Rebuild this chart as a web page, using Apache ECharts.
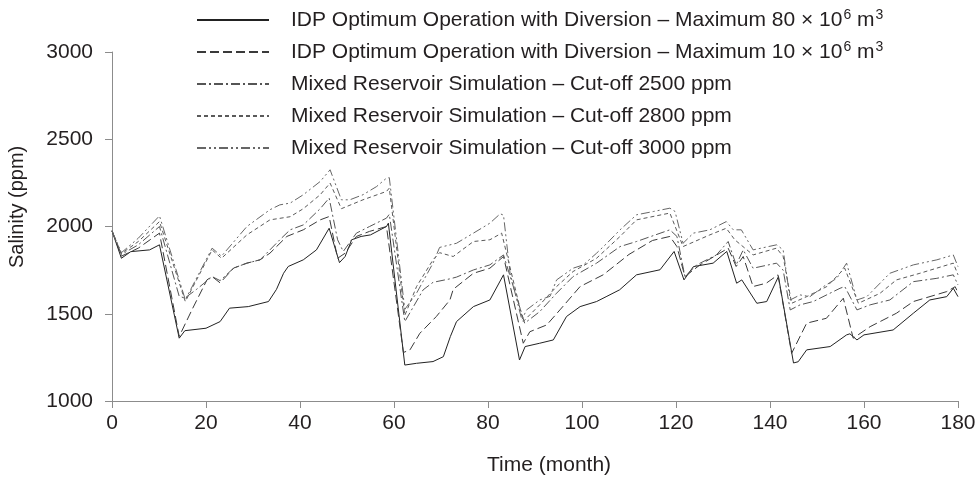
<!DOCTYPE html>
<html>
<head>
<meta charset="utf-8">
<script src="https://cdn.jsdelivr.net/npm/echarts@6/dist/echarts.min.js"></script>
<style>html,body{margin:0;padding:0;background:#fff}#c{width:980px;height:488px}</style>
</head>
<body>
<div id="c"></div>
<script>
// Series names (legend texts)
const seriesNames = [
  'IDP Optimum Operation with Diversion \u2013 Maximum 80 \u00d7 10^6 m^3',
  'IDP Optimum Operation with Diversion \u2013 Maximum 10 \u00d7 10^6 m^3',
  'Mixed Reservoir Simulation \u2013 Cut-off 2500 ppm',
  'Mixed Reservoir Simulation \u2013 Cut-off 2800 ppm',
  'Mixed Reservoir Simulation \u2013 Cut-off 3000 ppm'
];
// [month, salinity ppm]
const idp80 = [[0,1975],[2,1818],[4,1856],[8,1866],[10.1,1895],[14.3,1360],[15.5,1403],[20,1417],[23,1455],[25,1532],[29,1541],[33.3,1570],[35,1640],[36.5,1732],[37.5,1771],[40.7,1809],[43.5,1866],[46.2,1990],[48.4,1793],[49.6,1828],[51,1924],[53,1943],[55,1952],[58.4,2000],[58.8,2019],[62.3,1206],[64.8,1216],[68.3,1226],[70.5,1254],[72,1370],[73.3,1455],[76.9,1541],[80.4,1579],[83.3,1723],[86.7,1235],[87.9,1312],[91,1331],[93.9,1350],[96.7,1484],[99.6,1541],[103.1,1570],[105.3,1600],[108,1637],[111.6,1723],[116.6,1752],[119.6,1857],[121.7,1694],[123.7,1770],[127.9,1790],[130.8,1857],[132.9,1675],[134,1694],[137.2,1560],[139.3,1570],[141.8,1713],[145,1218],[146,1225],[147.8,1293],[152.8,1312],[156.3,1379],[157,1385],[158.5,1350],[160,1379],[166.2,1407],[170.5,1503],[174,1579],[177.6,1598],[179,1646],[180,1598]];
const idp10 = [[0,1975],[2,1830],[5.6,1876],[10.1,1962],[14.3,1370],[17,1522],[20.2,1694],[21.3,1713],[23,1677],[25.9,1762],[28.7,1790],[31.5,1809],[33.6,1847],[37.2,1943],[40.7,1981],[44.3,2038],[46.2,2057],[48,1818],[49.6,1847],[52,1943],[54.8,1972],[58.4,2000],[62,1278],[63.4,1293],[65.5,1388],[69,1484],[71.9,1579],[72.6,1640],[76.9,1732],[80.4,1761],[83.3,1828],[87.5,1331],[88.9,1397],[92.5,1436],[95.3,1522],[99.6,1656],[104.5,1723],[110,1840],[115,1920],[118.7,1943],[120.2,1885],[121.9,1713],[125.1,1780],[129.3,1847],[131.1,1876],[132.8,1771],[134.3,1828],[136.4,1656],[139.2,1675],[141.7,1723],[144.6,1273],[147.8,1446],[152,1474],[155.6,1589],[157.7,1360],[161.3,1426],[166.9,1503],[170.5,1570],[177.6,1627],[179.4,1655],[180,1620]];
const cut2500 = [[0,1975],[2,1840],[5.6,1895],[10.1,2000],[14.3,1600],[15.5,1590],[18,1640],[21.3,1713],[23,1690],[25.9,1762],[28.7,1790],[31.5,1809],[33.6,1866],[35.7,1924],[37.9,1981],[40.7,2009],[44.3,2102],[46.2,2163],[48,1924],[49.2,1857],[52,1962],[54.8,2000],[58.4,2048],[59,2070],[62.3,1455],[66.2,1637],[68.3,1680],[71.9,1700],[73.3,1710],[76.9,1751],[80.4,1780],[83.3,1837],[87.8,1446],[91,1512],[94.6,1618],[98.1,1713],[103.1,1790],[108.1,1885],[111.6,1914],[118.7,1981],[120.2,1943],[121.9,1713],[124.4,1780],[128.6,1837],[131.1,1914],[132.8,1780],[134.3,1866],[136.4,1761],[141.4,1790],[142.8,1750],[144.3,1522],[146.4,1551],[149.2,1570],[154.9,1646],[155.9,1656],[158.5,1522],[161.3,1551],[165.5,1579],[170.5,1684],[175.5,1703],[179,1723],[180,1665]];
const cut2800 = [[0,1975],[2,1845],[5.6,1914],[10.1,2028],[15.6,1570],[21.3,1866],[23.3,1818],[28.7,1952],[33.6,2038],[37.9,2056],[40.7,2102],[44.3,2182],[46.4,2249],[48.8,2102],[53.4,2153],[58.4,2201],[59,2220],[62.3,1490],[64.8,1656],[68.3,1809],[69.7,1850],[72.6,1828],[76.9,1914],[80.4,1924],[82.9,1962],[87.5,1456],[91,1551],[94.6,1656],[98.1,1742],[103.1,1818],[108.1,1943],[111.6,2038],[118.7,2077],[121.5,1885],[127.2,1952],[130.7,1990],[132.5,1924],[136.4,1837],[141.4,1876],[142.8,1828],[144.6,1560],[147.8,1598],[152.1,1656],[155.9,1761],[158.8,1560],[163.4,1617],[166.9,1694],[171.9,1732],[179,1790],[180,1723]];
const cut3000 = [[0,1975],[2,1850],[5.6,1933],[10.1,2061],[15.6,1580],[21.3,1876],[23.3,1830],[28.7,2000],[33.6,2096],[35.7,2124],[37.9,2134],[40.7,2182],[44.3,2258],[46.4,2325],[48.8,2153],[50.6,2153],[53.4,2182],[56.3,2229],[58.4,2277],[59,2280],[62.3,1525],[64.8,1618],[68.3,1790],[69.7,1880],[73.3,1904],[76.9,1962],[80.4,2019],[82.6,2073],[83.3,2065],[84.7,1732],[87.2,1465],[88.2,1522],[91,1579],[93.2,1600],[94.6,1694],[98.1,1761],[100.3,1780],[103.1,1847],[105.3,1904],[108.1,1981],[111.6,2067],[115.2,2086],[118.7,2105],[119.8,2086],[121.5,1904],[123.7,1962],[127.2,1981],[130.7,2028],[132.2,1981],[133.9,1981],[136.4,1866],[141.4,1895],[142.8,1866],[144.3,1579],[146.4,1608],[148.5,1598],[151.4,1656],[154.2,1703],[156.3,1790],[158.5,1579],[160.6,1598],[165.5,1732],[170.5,1780],[175.5,1809],[179,1837],[180,1770]];
const seriesData = [idp80, idp10, cut2500, cut2800, cut3000];
const dashes = ['solid', [9,4], [9,3,2,3], [4,3], [9,3,2,3,2,3]];
const lineColors = ['#222', '#3a3a3a', '#555', '#5a5a5a', '#666'];
const yTicks = [1000, 1500, 2000, 2500, 3000];

const FONT = 'Liberation Sans, Arial, sans-serif';
const TXT = '#231f20';
const chart = echarts.init(document.getElementById('c'), null, {renderer: 'canvas'});
chart.setOption({
  animation: false,
  backgroundColor: '#fff',
  textStyle: {fontFamily: FONT},
  grid: {left: 112, right: 22, top: 52, bottom: 87},
  legend: {
    orient: 'vertical',
    left: 191, top: 3,
    itemWidth: 72, itemHeight: 14, itemGap: 8,
    itemStyle: {opacity: 0},
    formatter: function (n) { return n.replace(/\^(\d)/g, '{sup|$1}'); },
    textStyle: {
      fontFamily: FONT, fontSize: 21, color: TXT, padding: [0,0,0,17], lineHeight: 24,
      rich: {sup: {fontSize: 14, fontFamily: FONT, color: TXT, verticalAlign: 'top', lineHeight: 24, padding: [0,0,6,1]}}
    },
    data: seriesNames
  },
  xAxis: {
    type: 'value', min: 0, max: 180, interval: 20,
    axisLine: {show: true, lineStyle: {color: '#8c8c8c', width: 1}},
    axisTick: {show: true, inside: false, length: 7, lineStyle: {color: '#8c8c8c'}},
    axisLabel: {fontSize: 21, color: TXT, margin: 12, fontFamily: FONT},
    splitLine: {show: false}
  },
  yAxis: {
    type: 'value', min: yTicks[0], max: yTicks[yTicks.length - 1], interval: 500,
    axisLine: {show: true, lineStyle: {color: '#8c8c8c', width: 1}},
    axisTick: {show: true, inside: false, length: 7, lineStyle: {color: '#8c8c8c'}},
    axisLabel: {fontSize: 21, color: TXT, margin: 19, fontFamily: FONT, formatter: function (v) { return String(v); }},
    splitLine: {show: false}
  },
  graphic: [
    {type: 'text', left: 487, top: 455, style: {text: 'Time (month)', font: '21px ' + FONT, fill: TXT}},
    {type: 'text', x: 7, y: 268, rotation: Math.PI/2, style: {text: 'Salinity (ppm)', font: '20px ' + FONT, fill: TXT}}
  ],
  series: seriesData.map((d, i) => ({
    name: seriesNames[i],
    type: 'line',
    data: d,
    symbol: 'none',
    lineStyle: {color: lineColors[i], width: 1, type: dashes[i]},
    itemStyle: {color: lineColors[i]}
  }))
});
</script>
</body>
</html>
